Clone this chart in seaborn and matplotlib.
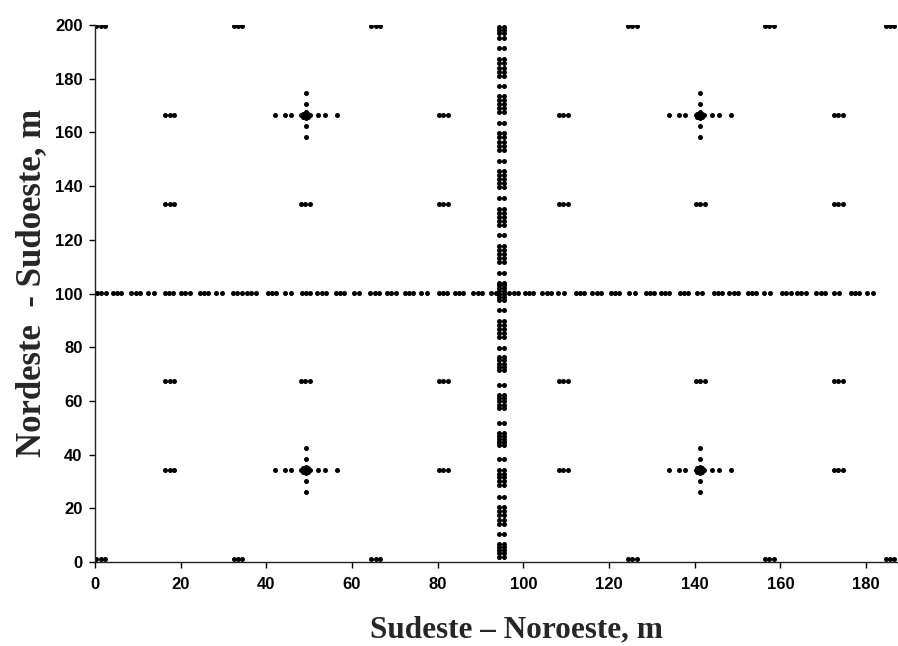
import numpy as np
import pandas as pd
import matplotlib
matplotlib.use("Agg")
import matplotlib.pyplot as plt
import seaborn as sns

# ---- sampling layout (metres) ----
# NE-SW transect: two columns of stations at these y positions
transect_cols_x = [94.3, 95.5]
transect_rows_y = [
    2.0, 3.2, 4.3, 5.5, 6.6, 10.4,
    14.3, 15.8, 17.4, 18.9, 20.4, 24.1,
    28.5, 30.0, 31.5, 32.9, 34.4, 38.2,
    43.4, 44.6, 45.7, 46.9, 48.0, 51.9,
    57.4, 58.6, 59.8, 60.9, 62.1, 66.0,
    71.6, 72.8, 73.9, 75.1, 76.2, 79.8,
    83.9, 85.4, 86.9, 88.4, 89.9, 93.9,
    97.5, 98.6, 99.7, 100.8, 101.9, 103.0, 103.9, 107.5,
    111.9, 113.3, 114.8, 116.2, 117.6, 121.8,
    125.4, 126.9, 128.4, 129.8, 131.3, 135.7,
    139.8, 141.2, 142.7, 144.1, 145.5, 149.3,
    153.3, 154.9, 156.6, 158.2, 159.8, 163.4,
    167.7, 169.1, 170.6, 172.0, 173.4, 177.3,
    180.9, 182.5, 184.1, 185.7, 187.3, 191.3,
    195.0, 197.1, 198.1, 199.1,
]

# SE-NW transect: groups of stations along y = 100
transect_row_y = 100.1
transect_group_x = [
    1.5, 5.1, 9.5, 13.1, 17.3, 21.1, 25.4, 28.9, 33.2, 36.5, 41.3, 45.1,
    49.3, 52.9, 57.2, 61.0, 65.3, 69.2, 73.3, 76.8, 81.2, 85.0, 89.3, 93.0,
    97.7, 101.3, 105.4, 108.8, 113.2, 117.1, 121.4, 125.3, 129.5, 133.0,
    137.5, 141.1, 145.4, 149.1, 153.4, 156.9, 161.4, 164.9, 169.4, 173.1,
    177.4, 180.9,
]
transect_group_n = [
    3, 3, 3, 2, 3, 3, 3, 2, 3, 3, 3, 2,
    3, 3, 3, 2, 3, 3, 3, 2, 3, 3, 3, 2,
    3, 3, 3, 2, 3, 3, 3, 2, 3, 3,
    3, 2, 3, 3, 3, 2, 3, 3, 3, 2,
    3, 2,
]
group_offsets = {3: [-1.0, 0.0, 1.0], 2: [-0.65, 0.65]}

# small three-station clusters: (x, y) centres
cluster_x = [1.3, 33.4, 65.5, 125.4, 157.4, 185.6,
             1.3, 33.4, 65.5, 125.4, 157.4, 185.6,
             17.4, 81.3, 109.3, 173.5,
             17.4, 81.3, 109.3, 173.5,
             17.4, 49.1, 81.3, 109.3, 141.3, 173.5,
             17.4, 49.1, 81.3, 109.3, 141.3, 173.5]
cluster_y = [199.6] * 6 + [1.3] * 6 + [166.4] * 4 + [34.3] * 4 + \
            [133.3] * 6 + [67.3] * 6
cluster_dx = [-1.0, 0.0, 1.0]

# cross-shaped nests
cross_x = [49.2, 141.2, 49.2, 141.2]
cross_y = [166.4, 166.4, 34.3, 34.3]
cross_arm_dx = [-7.2, -4.8, -3.4, 2.8, 4.5, 7.2]
cross_arm_dy = [-8.1, -4.1, 4.1, 8.1]
cross_core_dx = [0.0, -1.0, 1.0, 0.0, 0.0, -0.6, 0.6, -0.6, 0.6]
cross_core_dy = [0.0, 0.0, 0.0, -1.2, 1.2, 0.6, -0.6, -0.6, 0.6]

xs, ys = [], []
for cx in transect_cols_x:
    for ty in transect_rows_y:
        xs.append(cx); ys.append(ty)
for gx, n in zip(transect_group_x, transect_group_n):
    for d in group_offsets[n]:
        xs.append(gx + d); ys.append(transect_row_y)
for cx, cy in zip(cluster_x, cluster_y):
    for d in cluster_dx:
        xs.append(cx + d); ys.append(cy)
for cx, cy in zip(cross_x, cross_y):
    for d in cross_arm_dx:
        xs.append(cx + d); ys.append(cy)
    for d in cross_arm_dy:
        xs.append(cx); ys.append(cy + d)
    for dx, dy in zip(cross_core_dx, cross_core_dy):
        xs.append(cx + dx); ys.append(cy + dy)

df = pd.DataFrame({"x": xs, "y": ys})

sns.set_style("ticks")
plt.rcParams["font.family"] = ["Liberation Sans", "DejaVu Sans"]

fig = plt.figure(figsize=(8.98, 6.46), dpi=100)
ax = fig.add_axes([95 / 898, 84 / 646, 802 / 898, 537 / 646])

sns.scatterplot(data=df, x="x", y="y", ax=ax, color="black", marker="o",
                s=13, linewidth=0, legend=False)

ax.set_xlim(0, 187.2)
ax.set_ylim(0, 200)
ax.set_xticks(np.arange(0, 181, 20))
ax.set_yticks(np.arange(0, 201, 20))
for lab in ax.get_xticklabels() + ax.get_yticklabels():
    lab.set_fontweight("bold")
    lab.set_fontsize(12)
ax.tick_params(axis="x", direction="out", length=4, width=1, pad=7, colors="black")
ax.tick_params(axis="y", direction="out", length=4, width=1, pad=5, colors="black")
sns.despine(ax=ax, top=True, right=True)
for sp in ("left", "bottom"):
    ax.spines[sp].set_color("#222222")
    ax.spines[sp].set_linewidth(1)

ax.set_xlabel("Sudeste \u2013 Noroeste, m", fontsize=22.5, fontweight="bold",
              family="Liberation Serif")
ax.set_ylabel("Nordeste  - Sudoeste, m", fontsize=25, fontweight="bold",
              family="Liberation Serif")
ax.xaxis.set_label_coords(0.526, -0.1)
ax.yaxis.set_label_coords(-0.058, 0.52)

fig.savefig("out.png", dpi=100, facecolor="white")
